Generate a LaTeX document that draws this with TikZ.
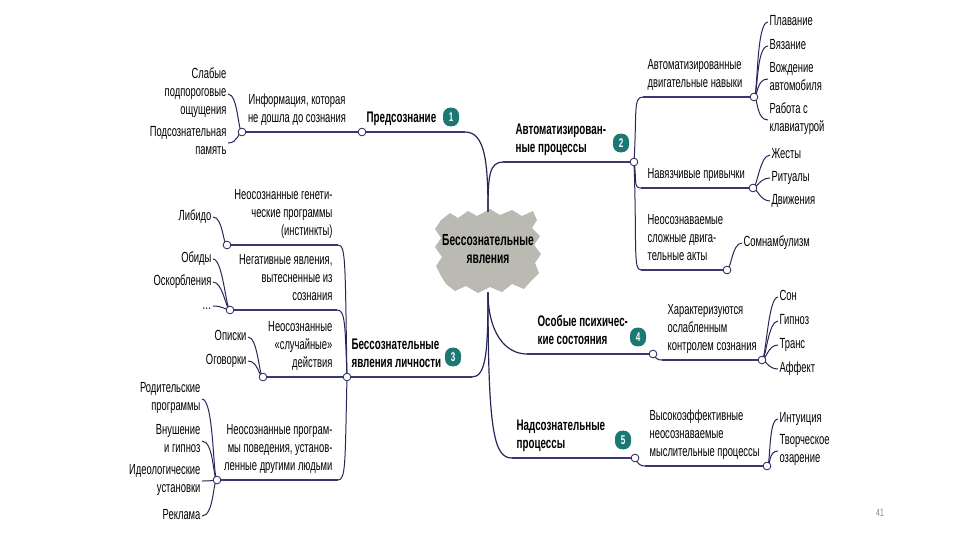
\documentclass[tikz,border=0pt]{standalone}
\usepackage{fontspec}
\setmainfont[FakeStretch=0.64]{Liberation Sans}
\usetikzlibrary{positioning}
\definecolor{ink}{rgb}{0.22, 0.22, 0.45}
\definecolor{stemink}{rgb}{0.15, 0.15, 0.35}
\definecolor{badgecol}{rgb}{0.11, 0.47, 0.45}
\definecolor{blobgray}{rgb}{0.73, 0.73, 0.70}
\tikzset{
  txt/.style={font=\fontsize{11}{13.5}\selectfont, inner sep=1pt, execute at end node=\strut},
  title/.style={txt, font=\bfseries\fontsize{11.5}{13.5}\selectfont, align=left, anchor=south west},
  subl/.style={txt, align=right, anchor=south east},
  subr/.style={txt, align=left, anchor=south west},
  leafl/.style={txt, align=right, anchor=east},
  leafr/.style={txt, align=left, anchor=west},
  uline/.style={draw=ink, line width=1.7pt},
  twig/.style={draw=stemink, line width=0.75pt},
  stem/.style={draw=stemink, line width=0.9pt},
  knot/.style={circle, draw=stemink, fill=white, line width=0.6pt, inner sep=0pt, minimum size=5.8pt},
  badge/.style={rectangle, rounded corners=5.5pt, fill=badgecol, text=white, font=\bfseries\fontsize{9.5}{9.5}\selectfont, inner sep=0pt, minimum width=12pt, minimum height=14pt}
}

\begin{document}
\begin{tikzpicture}[x=0.75pt, y=-0.75pt]
\useasboundingbox (0,0) rectangle (960,540);

% center
\fill[blobgray] (441,220) -- (450,213) -- (458,218) -- (468,211) -- (477,216) -- (490,209) -- (500,215) -- (512,210) -- (522,216) -- (533,211) -- (537,220)
  -- (532,228) -- (540,236) -- (534,245) -- (541,254) -- (535,263) -- (539,273) -- (531,281)
  -- (524,289) -- (512,284) -- (502,292) -- (490,287) -- (478,293) -- (466,286) -- (455,291) -- (446,284)
  -- (441,276) -- (436,266) -- (442,257) -- (435,247) -- (441,238) -- (435,229) -- cycle;
\node[txt, font=\bfseries\fontsize{12}{13.5}\selectfont, align=center, minimum width=78pt, minimum height=60pt] (c) at (488,252) {Бессознательные\\явления};

% 1
\node[title] (t1) at (365,129) {Предсознание};
\node[badge] (b1) at (451,117) {1};
\coordinate (k1) at (362,132);
\coordinate (e1) at (465,132);
\node[txt, align=center, anchor=south] (i11) at (297,129) {Информация, которая\\не дошла до сознания};
\coordinate (k11) at (242,132);
\node[leafl] (l111) at (228,94) {Слабые\\подпороговые\\ощущения};
\node[leafl] (l112) at (228,143) {Подсознательная\\память};
\draw[stem] (c.north) .. controls +(0,-50) and +(20,0) .. (e1);
\draw[uline] (k11) -- (k1) -- (e1);
\foreach \lf in {l111,l112}
  \draw[twig] (k11) .. controls +(-4,0) and +(10,0) .. (\lf.east);

% 2
\node[title] (t2) at (514,159) {Автоматизирован-\\ные процессы};
\node[badge] (b2) at (621,143) {2};
\coordinate (s2) at (503,162);
\coordinate (k2) at (634,162);
\node[subr] (i21) at (646,94) {Автоматизированные\\двигательные навыки};
\coordinate (s21) at (643,97);
\coordinate (k21) at (754,97);
\node[leafr] (l211) at (768,22) {Плавание};
\node[leafr] (l212) at (768,46) {Вязание};
\node[leafr] (l213) at (768,79) {Вождение\\автомобиля};
\node[leafr] (l214) at (768,120) {Работа с\\клавиатурой};
\node[subr] (i22) at (646,185) {Навязчивые привычки};
\coordinate (s22) at (641,188);
\coordinate (k22) at (753,188);
\node[leafr] (l221) at (770,155) {Жесты};
\node[leafr] (l222) at (770,178) {Ритуалы};
\node[leafr] (l223) at (770,201) {Движения};
\node[subr] (i23) at (646,267) {Неосознаваемые\\сложные двига-\\тельные акты};
\coordinate (s23) at (641,270);
\coordinate (k23) at (727,270);
\node[leafr] (l231) at (742,243) {Сомнамбулизм};
\draw[stem] (c.north) .. controls +(0,-35) and +(-14,0) .. (s2);
\draw[uline] (s2) -- (k2);
\draw[twig] (k2) .. controls +(3,-50) and +(-10,0) .. (s21);
\draw[twig] (k2) .. controls +(3,18) and +(-8,0) .. (s22);
\draw[twig] (k2) .. controls +(3,85) and +(-8,0) .. (s23);
\draw[uline] (s21) -- (k21) (s22) -- (k22) (s23) -- (k23);
\foreach \lf in {l211,l212,l213,l214}
  \draw[twig] (k21) .. controls +(4,0) and +(-12,0) .. (\lf.west);
\foreach \lf in {l221,l222,l223}
  \draw[twig] (k22) .. controls +(4,0) and +(-10,0) .. (\lf.west);
\draw[twig] (k23) .. controls +(4,0) and +(-10,0) .. (l231.west);

% 3
\node[title] (t3) at (350,374) {Бессознательные\\явления личности};
\node[badge] (b3) at (453,357) {3};
\coordinate (k3) at (347,377);
\coordinate (e3) at (472,377);
\node[subl] (i31) at (334,242) {Неосознанные генети-\\ческие программы\\(инстинкты)};
\coordinate (k31) at (227,245);
\coordinate (e31) at (338,245);
\node[leafl] (l311) at (213,217) {Либидо};
\node[subl] (i32) at (334,307) {Негативные явления,\\вытесненные из\\сознания};
\coordinate (k32) at (230,310);
\coordinate (e32) at (337,310);
\node[leafl] (l321) at (213,259) {Обиды};
\node[leafl] (l322) at (213,282) {Оскорбления};
\node[leafl] (l323) at (213,306) {\ldots};
\node[subl] (i33) at (334,374) {Неосознанные\\«случайные»\\действия};
\coordinate (k33) at (263,377);
\node[leafl] (l331) at (248,337) {Описки};
\node[leafl] (l332) at (248,361) {Оговорки};
\node[subl] (i34) at (334,477) {Неосознанные програм-\\мы поведения, установ-\\ленные другими людьми};
\coordinate (k34) at (217,480);
\coordinate (e34) at (338,480);
\node[leafl] (l341) at (202,399) {Родительские\\программы};
\node[leafl] (l342) at (202,441) {Внушение\\и гипноз};
\node[leafl] (l343) at (202,481) {Идеологические\\установки};
\node[leafl] (l344) at (202,516) {Реклама};
\draw[stem] (c.south) .. controls +(0,60) and +(14,0) .. (e3);
\draw[uline] (k33) -- (k3) -- (e3);
\draw[uline] (k31) -- (e31) (k32) -- (e32) (k34) -- (e34);
\draw[twig] (k3) .. controls +(-2,-115) and +(8,0) .. (e31);
\draw[twig] (k3) .. controls +(-2,-55) and +(8,0) .. (e32);
\draw[twig] (k3) .. controls +(-2,85) and +(8,0) .. (e34);
\draw[twig] (k31) .. controls +(-4,0) and +(10,0) .. (l311.east);
\foreach \lf in {l321,l322,l323}
  \draw[twig] (k32) .. controls +(-4,0) and +(10,0) .. (\lf.east);
\foreach \lf in {l331,l332}
  \draw[twig] (k33) .. controls +(-4,0) and +(10,0) .. (\lf.east);
\foreach \lf in {l341,l342,l343,l344}
  \draw[twig] (k34) .. controls +(-4,0) and +(12,0) .. (\lf.east);

% 4
\node[title] (t4) at (536,351) {Особые психичес-\\кие состояния};
\node[badge] (b4) at (638,337) {4};
\coordinate (s4) at (527,354);
\coordinate (k4) at (653,354);
\node[subr] (i41) at (666,357) {Характеризуются\\ослабленным\\контролем сознания};
\coordinate (s41) at (662,360);
\coordinate (k41) at (762,360);
\node[leafr] (l411) at (778,297) {Сон};
\node[leafr] (l412) at (778,321) {Гипноз};
\node[leafr] (l413) at (778,345) {Транс};
\node[leafr] (l414) at (778,369) {Аффект};
\draw[stem] (c.south) .. controls +(0,40) and +(-22,0) .. (s4);
\draw[uline] (s4) -- (k4);
\draw[twig] (k4) .. controls +(3,5) and +(-4,0) .. (s41);
\draw[uline] (s41) -- (k41);
\foreach \lf in {l411,l412,l413,l414}
  \draw[twig] (k41) .. controls +(4,0) and +(-10,0) .. (\lf.west);

% 5
\node[title] (t5) at (515,455) {Надсознательные\\процессы};
\node[badge] (b5) at (623,440) {5};
\coordinate (s5) at (512,458);
\coordinate (k5) at (635,458);
\node[subr] (i51) at (648,463) {Высокоэффективные\\неосознаваемые\\мыслительные процессы};
\coordinate (s51) at (645,466);
\coordinate (k51) at (767,466);
\node[leafr] (l511) at (778,419) {Интуиция};
\node[leafr] (l512) at (778,451) {Творческое\\озарение};
\draw[stem] (c.south) .. controls +(0,140) and +(-18,0) .. (s5);
\draw[uline] (s5) -- (k5);
\draw[twig] (k5) .. controls +(3,6) and +(-5,0) .. (s51);
\draw[uline] (s51) -- (k51);
\foreach \lf in {l511,l512}
  \draw[twig] (k51) .. controls +(4,0) and +(-10,0) .. (\lf.west);

\foreach \k in {k1,k11,k2,k21,k22,k23,k3,k31,k32,k33,k34,k4,k41,k5,k51}
  \node[knot] at (\k) {};

\node[font=\fontsize{8}{8}\selectfont, text=gray] (pg) at (880,513) {41};
\end{tikzpicture}
\end{document}
